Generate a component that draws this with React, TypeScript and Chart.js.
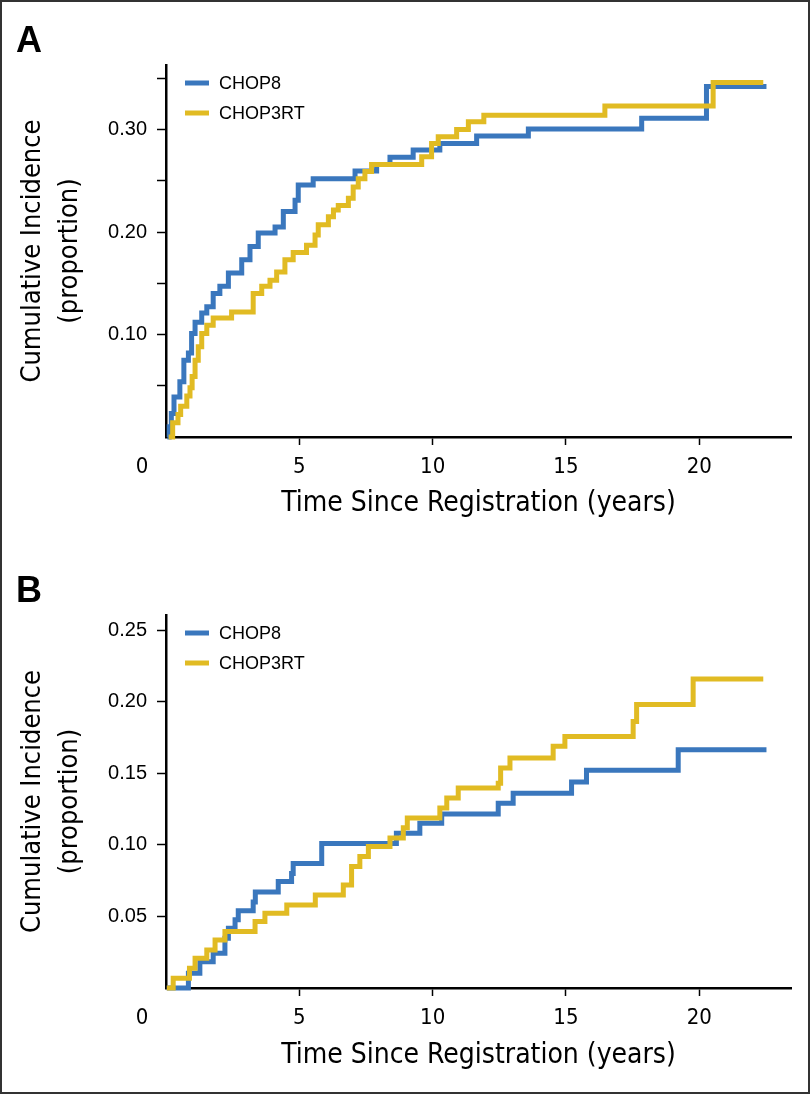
import React, { useEffect, useRef } from "react";
import { Chart, registerables } from "chart.js";

Chart.register(...registerables);

// ---------- data ----------
const SERIES_NAMES = ["CHOP8", "CHOP3RT"];
const SERIES_COLORS = ["#3a77bd", "#e1bb23"];

const X_TICKS = [5, 10, 15, 20];
const X_ZERO_LABEL = "0";
const X_MAX = 23.44;
const X_TITLE = "Time Since Registration (years)";
const Y_TITLE = ["Cumulative Incidence", "(proportion)"];

const A_Y_TICKS = [0.05, 0.1, 0.15, 0.2, 0.25, 0.3, 0.35];
const A_Y_LABELED = [0.1, 0.2, 0.3];
const A_Y_MAX = 0.363;

const B_Y_TICKS = [0.05, 0.1, 0.15, 0.2, 0.25];
const B_Y_LABELED = [0.05, 0.1, 0.15, 0.2, 0.25];
const B_Y_MAX = 0.2605;

const A_CHOP8_TIME = [0.05, 0.12, 0.2, 0.3, 0.52, 0.67, 0.84, 0.96, 1.09, 1.34, 1.53, 1.77, 2.02, 2.34, 2.84, 3.15, 3.46, 4.09, 4.4, 4.84, 4.96, 5.52, 7.09, 7.9, 8.4, 9.27, 10.27, 11.65, 13.59, 17.84, 20.27, 22.52];
const A_CHOP8_CUM = [0, 0.01, 0.023, 0.039, 0.054, 0.075, 0.082, 0.101, 0.112, 0.121, 0.127, 0.14, 0.147, 0.16, 0.173, 0.186, 0.199, 0.205, 0.22, 0.231, 0.246, 0.252, 0.2595, 0.266, 0.273, 0.28, 0.2865, 0.2937, 0.3005, 0.311, 0.342, 0.342];

const A_CHOP3RT_TIME = [0.1, 0.25, 0.45, 0.55, 0.78, 0.9, 0.98, 1.09, 1.21, 1.34, 1.53, 1.77, 2.46, 3.27, 3.59, 3.9, 4.15, 4.46, 4.77, 5.27, 5.59, 5.71, 6.09, 6.28, 6.46, 6.84, 7.02, 7.21, 7.46, 7.71, 9.59, 9.96, 10.21, 10.9, 11.34, 11.92, 16.46, 20.52, 22.4];
const A_CHOP3RT_CUM = [0, 0.014, 0.022, 0.03, 0.04, 0.048, 0.059, 0.075, 0.088, 0.101, 0.109, 0.116, 0.122, 0.14, 0.147, 0.153, 0.161, 0.173, 0.18, 0.187, 0.197, 0.207, 0.215, 0.2215, 0.226, 0.233, 0.244, 0.252, 0.259, 0.266, 0.2735, 0.2865, 0.293, 0.3, 0.3076, 0.314, 0.323, 0.346, 0.346];

const B_CHOP8_TIME = [0.03, 0.84, 1.27, 1.77, 2.21, 2.34, 2.59, 2.71, 3.27, 3.35, 4.21, 4.71, 4.77, 5.84, 8.64, 9.52, 10.34, 12.46, 13.02, 15.21, 15.77, 19.21, 22.52];
const B_CHOP8_CUM = [0, 0.0103, 0.0184, 0.0243, 0.0347, 0.0417, 0.0476, 0.054, 0.06, 0.067, 0.0743, 0.08, 0.087, 0.101, 0.108, 0.115, 0.1215, 0.129, 0.136, 0.1438, 0.152, 0.1664, 0.1664];

const B_CHOP3RT_TIME = [0.03, 0.27, 0.88, 1.09, 1.53, 1.84, 2.21, 3.34, 3.71, 4.53, 5.6, 6.65, 6.96, 7.27, 7.59, 8.4, 8.9, 9.05, 10.27, 10.53, 10.96, 12.46, 12.55, 12.9, 14.52, 14.96, 17.52, 17.65, 19.77, 22.4];
const B_CHOP3RT_CUM = [0, 0.0068, 0.0138, 0.0208, 0.0266, 0.0336, 0.0394, 0.0464, 0.0522, 0.058, 0.065, 0.072, 0.0848, 0.0918, 0.0988, 0.1047, 0.112, 0.1187, 0.1257, 0.1327, 0.1397, 0.143, 0.1536, 0.1606, 0.1688, 0.1757, 0.1862, 0.198, 0.2158, 0.2158];

// ---------- styling ----------
const NARROW = "'DejaVu Sans Condensed', 'Liberation Sans Narrow', sans-serif";
const SANS = "'Liberation Sans', Arial, Helvetica, sans-serif";

const decorPlugin = {
  id: "panelDecor",
  afterDraw(chart: any, _args: any, opts: any) {
    const ctx = chart.ctx;
    const area = chart.chartArea;
    ctx.save();
    ctx.fillStyle = "#000";
    // panel letter
    ctx.font = `bold 36px ${SANS}`;
    ctx.textAlign = "left";
    ctx.textBaseline = "alphabetic";
    ctx.fillText(opts.letter, 16, opts.letterBaseline);
    // "0" label on x axis (offset to the left of the origin, as in the reference)
    const xs = chart.scales.x;
    ctx.font = `22px ${NARROW}`;
    ctx.textAlign = "center";
    ctx.textBaseline = "middle";
    ctx.fillText(X_ZERO_LABEL, xs.getPixelForValue(0) - 24, area.bottom + 30);
    // legend inside plot area
    chart.data.datasets.forEach((ds: any, i: number) => {
      const y = area.top + 18 + i * 30;
      ctx.strokeStyle = ds.borderColor;
      ctx.lineWidth = 5;
      ctx.lineCap = "butt";
      ctx.beginPath();
      ctx.moveTo(area.left + 19, y);
      ctx.lineTo(area.left + 43, y);
      ctx.stroke();
      ctx.font = `18px ${SANS}`;
      ctx.textAlign = "left";
      ctx.textBaseline = "middle";
      ctx.fillStyle = "#000";
      ctx.fillText(ds.label, area.left + 53, y + 1);
    });
    ctx.restore();
  },
};

function makeConfig(p: any) {
  const series = [
    { t: p.t8, v: p.v8 },
    { t: p.t3, v: p.v3 },
  ];
  return {
    type: "line",
    data: {
      datasets: series.map((s, i) => ({
        label: SERIES_NAMES[i],
        data: s.t.map((t: number, j: number) => ({ x: t, y: s.v[j] })),
        borderColor: SERIES_COLORS[i],
        backgroundColor: SERIES_COLORS[i],
        borderWidth: 5,
        pointRadius: 0,
        pointHoverRadius: 0,
        stepped: true,
        fill: false,
        clip: false,
        order: i === 0 ? 1 : 0,
        borderCapStyle: "butt",
        borderJoinStyle: "miter",
      })),
    },
    options: {
      responsive: false,
      animation: false,
      devicePixelRatio: 1,
      events: [],
      layout: { padding: { left: 0, right: 21, top: p.top, bottom: 0 } },
      plugins: {
        legend: { display: false },
        tooltip: { enabled: false },
        title: { display: false },
        panelDecor: { letter: p.letter, letterBaseline: p.letterBaseline },
      },
      scales: {
        x: {
          type: "linear",
          min: 0,
          max: X_MAX,
          afterBuildTicks: (s: any) => {
            s.ticks = X_TICKS.map((v) => ({ value: v }));
          },
          afterFit: (s: any) => {
            s.height = p.xHeight;
          },
          grid: { drawOnChartArea: false, drawTicks: true, tickLength: 8, tickWidth: 1.5, tickColor: "#000" },
          border: { display: true, color: "#000", width: 2.5 },
          ticks: {
            font: { family: NARROW, size: 22 },
            color: "#000",
            padding: 9,
            maxRotation: 0,
            autoSkip: false,
            callback: (v: any) => String(v),
          },
          title: {
            display: true,
            text: X_TITLE,
            color: "#000",
            font: { family: NARROW, size: 28 },
            padding: { top: 0, bottom: p.xTitlePad },
          },
        },
        y: {
          type: "linear",
          min: 0,
          max: p.yMax,
          afterBuildTicks: (s: any) => {
            s.ticks = p.yTicks.map((v: number) => ({ value: v }));
          },
          afterFit: (s: any) => {
            s.width = 166;
          },
          grid: { drawOnChartArea: false, drawTicks: true, tickLength: 9, tickWidth: 1.5, tickColor: "#000" },
          border: { display: true, color: "#000", width: 2.5 },
          ticks: {
            font: { family: SANS, size: 20 },
            color: "#000",
            padding: 10,
            autoSkip: false,
            callback: (v: any) =>
              p.yLabeled.some((l: number) => Math.abs(l - v) < 1e-9) ? Number(v).toFixed(2) : "",
          },
          title: {
            display: true,
            text: Y_TITLE,
            color: "#000",
            font: { family: NARROW, size: 27, lineHeight: 1.37 },
            padding: { top: 14, bottom: 0 },
          },
        },
      },
    },
    plugins: [decorPlugin],
  };
}

const PANEL_A = {
  letter: "A",
  letterBaseline: 52,
  top: 65,
  xHeight: 108,
  xTitlePad: 24,
  yMax: A_Y_MAX,
  yTicks: A_Y_TICKS,
  yLabeled: A_Y_LABELED,
  t8: A_CHOP8_TIME,
  v8: A_CHOP8_CUM,
  t3: A_CHOP3RT_TIME,
  v3: A_CHOP3RT_CUM,
};

const PANEL_B = {
  letter: "B",
  letterBaseline: 57,
  top: 70,
  xHeight: 107,
  xTitlePad: 22,
  yMax: B_Y_MAX,
  yTicks: B_Y_TICKS,
  yLabeled: B_Y_LABELED,
  t8: B_CHOP8_TIME,
  v8: B_CHOP8_CUM,
  t3: B_CHOP3RT_TIME,
  v3: B_CHOP3RT_CUM,
};

function Panel({ spec, top, height }: any) {
  const ref = useRef<HTMLCanvasElement | null>(null);
  useEffect(() => {
    if (!ref.current) return;
    const chart = new Chart(ref.current, makeConfig(spec) as any);
    return () => chart.destroy();
  }, [spec]);
  return (
    <canvas
      ref={ref}
      width={812}
      height={height}
      style={{ position: "absolute", left: 0, top, width: 812, height, display: "block" }}
    />
  );
}

export default function App() {
  useEffect(() => {
    document.body.style.margin = "0";
    document.body.style.background = "#fff";
  }, []);
  return (
    <div style={{ position: "relative", width: 812, height: 1095, background: "#fff", overflow: "hidden" }}>
      <Panel spec={PANEL_A} top={0} height={545} />
      <Panel spec={PANEL_B} top={545} height={550} />
      <div
        style={{
          position: "absolute",
          left: 0,
          top: 0,
          width: 810,
          height: 1094,
          border: "2px solid #333",
          boxSizing: "border-box",
          pointerEvents: "none",
        }}
      />
    </div>
  );
}
